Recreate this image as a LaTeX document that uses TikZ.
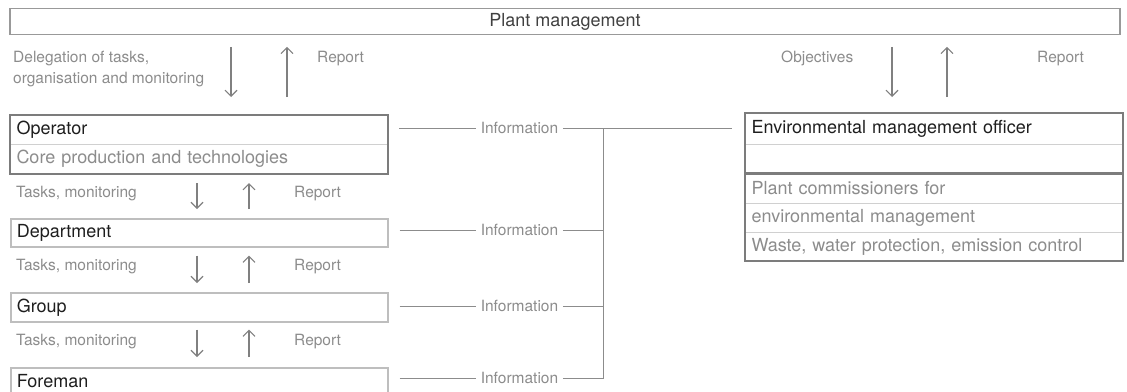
\documentclass[tikz,border=0pt]{standalone}
\usepackage{fontspec}
\setmainfont{TeX Gyre Heros}
\usetikzlibrary{arrows.meta}
\definecolor{lblgray}{HTML}{8C8C8C}
\definecolor{txtdark}{HTML}{1E1E1E}
\definecolor{framedark}{HTML}{7C7C7C}
\definecolor{framelight}{HTML}{BEBEBE}
\definecolor{rowline}{HTML}{D0D0D0}
\definecolor{arrgray}{HTML}{808080}

\begin{document}
\begin{tikzpicture}[x=1pt,y=-1pt,
  lbl/.style={text=lblgray,inner sep=0pt,font=\fontsize{15.5}{21}\selectfont},
  rowbox/.style={draw=rowline,line width=1pt,anchor=north west,minimum width=377pt,text width=365pt,inner xsep=6pt,inner ysep=0pt,align=left,text=txtdark,font=\fontsize{18}{20}\selectfont},
  lightbox/.style={rowbox,draw=framelight,line width=1.6pt},
  frame/.style={draw=framedark,line width=1.6pt},
  arr/.style={draw=arrgray,line width=1.1pt,-{Straight Barb[length=6pt,width=12pt]}},
  infoline/.style={draw=lblgray,line width=1pt},
  info/.style={lbl,inner xsep=4.5pt}]
\useasboundingbox (0,0) rectangle (1127,391);

% top level
\node[draw=gray!80,line width=1.6pt,minimum width=1110pt,minimum height=26pt,inner sep=0pt,text=txtdark!85,font=\fontsize{18}{20}\selectfont] (pm) at (565,21.5) {Plant management};

% operator and the line below it
\node[rowbox,minimum height=29pt] (opr1) at (10,115) {Operator};
\node[rowbox,minimum height=29pt,text=lblgray] (opr2) at (10,144) {Core production and technologies};
\draw[frame] (opr1.north west) rectangle (opr2.south east);
\node[lightbox,minimum height=28pt] (dept) at (10,218) {Department};
\node[lightbox,minimum height=29pt] (grp) at (10,292) {Group};
\node[lightbox,minimum height=26pt] (frm) at (10,367) {Foreman};

% environmental management
\node[rowbox,minimum height=31pt] (env1) at (745,113) {Environmental management officer};
\node[rowbox,minimum height=29pt] (env2) at (745,144) {};
\node[rowbox,minimum height=30pt,text=lblgray] (env3) at (745,173) {Plant commissioners for};
\node[rowbox,minimum height=29pt,text=lblgray] (env4) at (745,203) {environmental management};
\node[rowbox,minimum height=28pt,text=lblgray] (env5) at (745,232) {Waste, water protection, emission control};
\draw[frame] (env1.north west) rectangle (env2.south east);
\draw[frame] (env3.north west) rectangle (env5.south east);

% labels
\node[lbl,anchor=north west,align=left] (deleg) at (13,51) {Delegation of tasks,\\organisation and monitoring};
\node[lbl,anchor=base west] (rep0) at (317,62) {Report};
\node[lbl,anchor=base west] (obj) at (781,62) {Objectives};
\node[lbl,anchor=base west] (rep4) at (1037,62) {Report};
\node[lbl,anchor=base west] (tasks1) at (16,197) {Tasks, monitoring};
\node[lbl,anchor=base west] (rep1) at (294,197) {Report};
\node[lbl,anchor=base west] (tasks2) at (16,270) {Tasks, monitoring};
\node[lbl,anchor=base west] (rep2) at (294,270) {Report};
\node[lbl,anchor=base west] (tasks3) at (16,345) {Tasks, monitoring};
\node[lbl,anchor=base west] (rep3) at (294,345) {Report};

% arrows
\coordinate (dn0) at (231,0); \coordinate (up0) at (287,0);
\coordinate (dn1) at (197,0); \coordinate (up1) at (249,0);
\coordinate (dn4) at (892,0); \coordinate (up4) at (947,0);
\draw[arr,shorten <=11.5pt,shorten >=18pt] (pm.south -| dn0) -- (opr1.north -| dn0);
\draw[arr,shorten <=18pt,shorten >=11.5pt] (opr1.north -| up0) -- (pm.south -| up0);
\draw[arr,shorten <=11.5pt,shorten >=16pt] (pm.south -| dn4) -- (env1.north -| dn4);
\draw[arr,shorten <=16pt,shorten >=11.5pt] (env1.north -| up4) -- (pm.south -| up4);
\draw[arr,shorten <=9pt,shorten >=9pt] (opr2.south -| dn1) -- (dept.north -| dn1);
\draw[arr,shorten <=9pt,shorten >=9pt] (dept.north -| up1) -- (opr2.south -| up1);
\draw[arr,shorten <=8pt,shorten >=9pt] (dept.south -| dn1) -- (grp.north -| dn1);
\draw[arr,shorten <=9pt,shorten >=8pt] (grp.north -| up1) -- (dept.south -| up1);
\draw[arr,shorten <=7pt,shorten >=10pt] (grp.south -| dn1) -- (frm.north -| dn1);
\draw[arr,shorten <=10pt,shorten >=7pt] (frm.north -| up1) -- (grp.south -| up1);

% information lines
\node[info] (info1) at (519.5,128) {Information};
\node[info] (info2) at (519.5,230) {Information};
\node[info] (info3) at (519.5,306) {Information};
\node[info] (info4) at (519.5,378) {Information};
\coordinate (trk) at (603,128);
\draw[infoline,shorten <=11pt] (info1 -| opr1.east) -- (info1.west);
\draw[infoline,shorten <=11pt] (info2 -| dept.east) -- (info2.west);
\draw[infoline,shorten <=11pt] (info3 -| grp.east) -- (info3.west);
\draw[infoline,shorten <=11pt] (info4 -| frm.east) -- (info4.west);
\draw[infoline,shorten >=13pt] (info1.east) -- (info1 -| env1.west);
\draw[infoline] (info2.east) -- (info2 -| trk);
\draw[infoline] (info3.east) -- (info3 -| trk);
\draw[infoline] (info4.east) -- (info4 -| trk) -- (trk);
\end{tikzpicture}
\end{document}
